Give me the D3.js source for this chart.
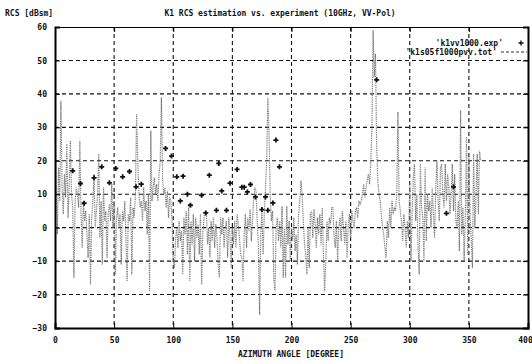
<!DOCTYPE html>
<html>
<head>
<meta charset="utf-8">
<script src="https://cdn.jsdelivr.net/npm/d3@7"></script>
<style>
  body { margin: 0; background: #fff; }
  text { font-family: "DejaVu Sans Mono", monospace; font-size: 8px; font-weight: bold; fill: #111; }
</style>
</head>
<body>
<div id="chart"></div>
<script>
// Axis setup
const xTicks = [0, 50, 100, 150, 200, 250, 300, 350, 400]
const yTicks = [-30, -20, -10, 0, 10, 20, 30, 40, 50, 60]

// 'k1s05f1000pvv.tot' : estimated RCS, one value per degree of azimuth (0..360)
const totStart = 0
const totStep = 1
const totValues = [
  30, 14, -2, 18, 8, 38, 12, 4, 16, 9,
  25, 3, 12, 26, 10, 6, -15, 8, 12, 10,
  6, 26, 4, -6, 8, 2, 5, -2, -9, 4,
  -17, 3, 8, 16, 0, 5, 10, 22, -3, 8,
  -11, 12, 2, 5, -9, 4, 7, 2, 13, 0,
  8, -14, 3, 6, 0, 4, -11, 5, 2, 8,
  -3, -16, 4, 2, 9, -14, 6, 3, 10, 34,
  20, 10, 6, 8, 2, 12, 5, 8, -2, 10,
  -19, 29, 8, 12, 15, 10, 13, 8, 16, 20,
  39, 14, 10, 12, 6, 11, 3, 9, 8, 2,
  -10, -12, -3, 0, -6, 2, -4, -1, -14, 3,
  -2, 5, -8, 6, -16, 2, -5, 4, -10, 3,
  -3, 1, -8, 4, -17, -2, 3, 5, 4.5, -5,
  0, -9, 2, -4, 3, -6, 1, -3, -11, -15,
  3, -2, 3, -6, 0, 2, -9, 3, -3, -12,
  0, -5, 2, -6, 4, 1, -3, -8, -9, -16,
  -2, 4, -6, 3, -1, 5.5, -4, 2, 9, 12,
  11, 2, -5, -26, -2, 5, -8, 4, 12, 20,
  39, 28, 10, 2, 5, -15, -19, 0, 3, -4,
  2, -6, 6.5, -15, 0, -15, 6.5, -5, 2, -10,
  0, -4, 3, -7, -2, -11, 4, 8, 14, 10,
  2, -5, -8, -14, 0, -12, 4, 5, -3, 5.5,
  1, -6, 3, -2, 4, -5, 6, -8, -19, -10,
  2, -4, 3, 1, 6, 6, -3, -6, 2, -10,
  0, 3, -4, 5, 0, -5, 2, -9, 1, 4,
  -3, 5, 2, 0, 5, 6, 3, 8, 7, 8,
  10, 13, 9, 12, 14, 16, 13, 19, 30, 59,
  45, 52, 25, 14, 10, 8, 4, 0, -2, -6,
  -9, 2, -3, 6, 0, 8, 4, 6, 5, 10,
  34.6, 8, 5, 2, -4, 4, 0, -6, 2, -3,
  13, -10, 4, 15, 19, 2, 10, -6, -14, 19,
  6, 3, -10, 18, -4, 10, 5, 8, 0, 12,
  4, -3, 12, 20, 8, 2, 18, 19, 10, 6,
  19, 8, 16, 12, 4, 10, 19, 5, 16, 2,
  0, 8, -7, 35, -2, 6, -10, 4, 27, -8,
  21, 3, -3, -12, 22, 0, 9, 22, 4, 23,
  20
]

// 'k1vv1000.exp' : measured points
const expAngles = [15, 21.5, 24.6, 33, 39.5, 46, 51.4, 57.2, 63, 68.5, 73,
  93.5, 98.5, 103, 106, 108.3, 112, 114.5, 124, 127.5, 130.5, 136.5, 138.5,
  141, 145, 148, 154, 158, 160, 162.7, 165.3, 169.5, 175, 178, 180, 184.3,
  186.8, 189.8, 272, 331, 337]
const expValues = [17, 13.2, 7.3, 14.9, 18.2, 13.4, 17.7, 15.2, 16.8, 12.2, 13,
  23.7, 21.4, 15.2, 8, 15.4, 10, 6.7, 9.7, 4.4, 15.7, 5.2, 19.2,
  11, 5.2, 13.3, 17.4, 12.1, 12.1, 10.7, 12.9, 9.2, 5.4, 9.2, 5.2, 7.4,
  26.2, 18.2, 44.2, 4.3, 12.2]

const seriesNames = ["'k1vv1000.exp'", "'k1s05f1000pvv.tot'"]

// SVG
const outerWidth = 532
const outerHeight = 364
const margin = {top: 27, right: 4, bottom: 36, left: 55}
const width = outerWidth - margin.left - margin.right
const height = outerHeight - margin.top - margin.bottom

const svg = d3.select("#chart")
    .append("svg")
    .attr("width", outerWidth)
    .attr("height", outerHeight)

const g = svg.append("g")
    .attr("transform", `translate(${margin.left}, ${margin.top})`)

const x = d3.scaleLinear().domain([0, 400]).range([0, width])
const y = d3.scaleLinear().domain([-30, 60]).range([height, 0])

// Grid
g.append("g")
    .selectAll("line")
    .data(yTicks.slice(1, -1))
    .enter()
    .append("line")
    .attr("x1", 0).attr("x2", width)
    .attr("y1", d => y(d)).attr("y2", d => y(d))
    .attr("stroke", "#111")
    .attr("stroke-width", 1.1)
    .attr("stroke-dasharray", "4,3")

g.append("g")
    .selectAll("line")
    .data(xTicks.slice(1, -1))
    .enter()
    .append("line")
    .attr("x1", d => x(d)).attr("x2", d => x(d))
    .attr("y1", 0).attr("y2", height)
    .attr("stroke", "#111")
    .attr("stroke-width", 1.1)
    .attr("stroke-dasharray", "4,3")

// Estimated line
const line = d3.line()
    .x((d, i) => x(totStart + i * totStep))
    .y(d => y(d))

g.append("path")
    .datum(totValues)
    .attr("d", line)
    .attr("fill", "none")
    .attr("stroke", "#7a7a7a")
    .attr("stroke-width", 1.2)
    .attr("stroke-dasharray", "1,0.8")

// Measured points
const plus = "M-2.5,0H2.5M0,-2.5V2.5"
g.append("g")
    .selectAll("path")
    .data(expAngles)
    .enter()
    .append("path")
    .attr("transform", (d, i) => `translate(${x(d)}, ${y(expValues[i])})`)
    .attr("d", plus)
    .attr("stroke", "#111")
    .attr("stroke-width", 1.8)

// Axes (ticks inside, labels outside)
const xAxis = d3.axisBottom(x).tickValues(xTicks).tickSize(-5).tickPadding(9)
const yAxis = d3.axisLeft(y).tickValues(yTicks).tickSize(-5).tickPadding(8)

g.append("g")
    .attr("transform", `translate(0, ${height})`)
    .call(xAxis)
    .call(a => a.select(".domain").attr("stroke-width", 2))
    .call(a => a.selectAll(".tick text").filter(d => d === 400).attr("dx", -3))

g.append("g")
    .call(yAxis)
    .call(a => a.select(".domain").attr("stroke-width", 2))

g.append("g")
    .call(d3.axisTop(x).tickValues(xTicks).tickSize(-5).tickFormat(""))
    .call(a => a.select(".domain").attr("stroke-width", 1))

g.append("g")
    .attr("transform", `translate(${width}, 0)`)
    .call(d3.axisRight(y).tickValues(yTicks).tickSize(-5).tickFormat(""))
    .call(a => a.select(".domain").attr("stroke-width", 2))

g.selectAll(".tick text").attr("font-size", null).attr("font-family", null)

// Legend
const legend = g.append("g")
    .attr("transform", `translate(${width}, 0)`)

legend.append("text")
    .attr("x", -25).attr("y", 19)
    .attr("text-anchor", "end")
    .text(seriesNames[0])

legend.append("path")
    .attr("transform", "translate(-7, 16)")
    .attr("d", plus)
    .attr("stroke", "#111")
    .attr("stroke-width", 1.4)

legend.append("text")
    .attr("x", -31).attr("y", 28)
    .attr("text-anchor", "end")
    .text(seriesNames[1])

legend.append("line")
    .attr("x1", -27).attr("x2", -1)
    .attr("y1", 25).attr("y2", 25)
    .attr("stroke", "#333")
    .attr("stroke-width", 1.1)
    .attr("stroke-dasharray", "3,2")

// Titles
svg.append("text")
    .attr("x", 5).attr("y", 16)
    .text("RCS [dBsm]")

svg.append("text")
    .attr("x", 280).attr("y", 16)
    .attr("text-anchor", "middle")
    .text("K1 RCS estimation vs. experiment (10GHz, VV-Pol)")

svg.append("text")
    .attr("x", 291).attr("y", 357)
    .attr("text-anchor", "middle")
    .text("AZIMUTH ANGLE [DEGREE]")
</script>
</body>
</html>
